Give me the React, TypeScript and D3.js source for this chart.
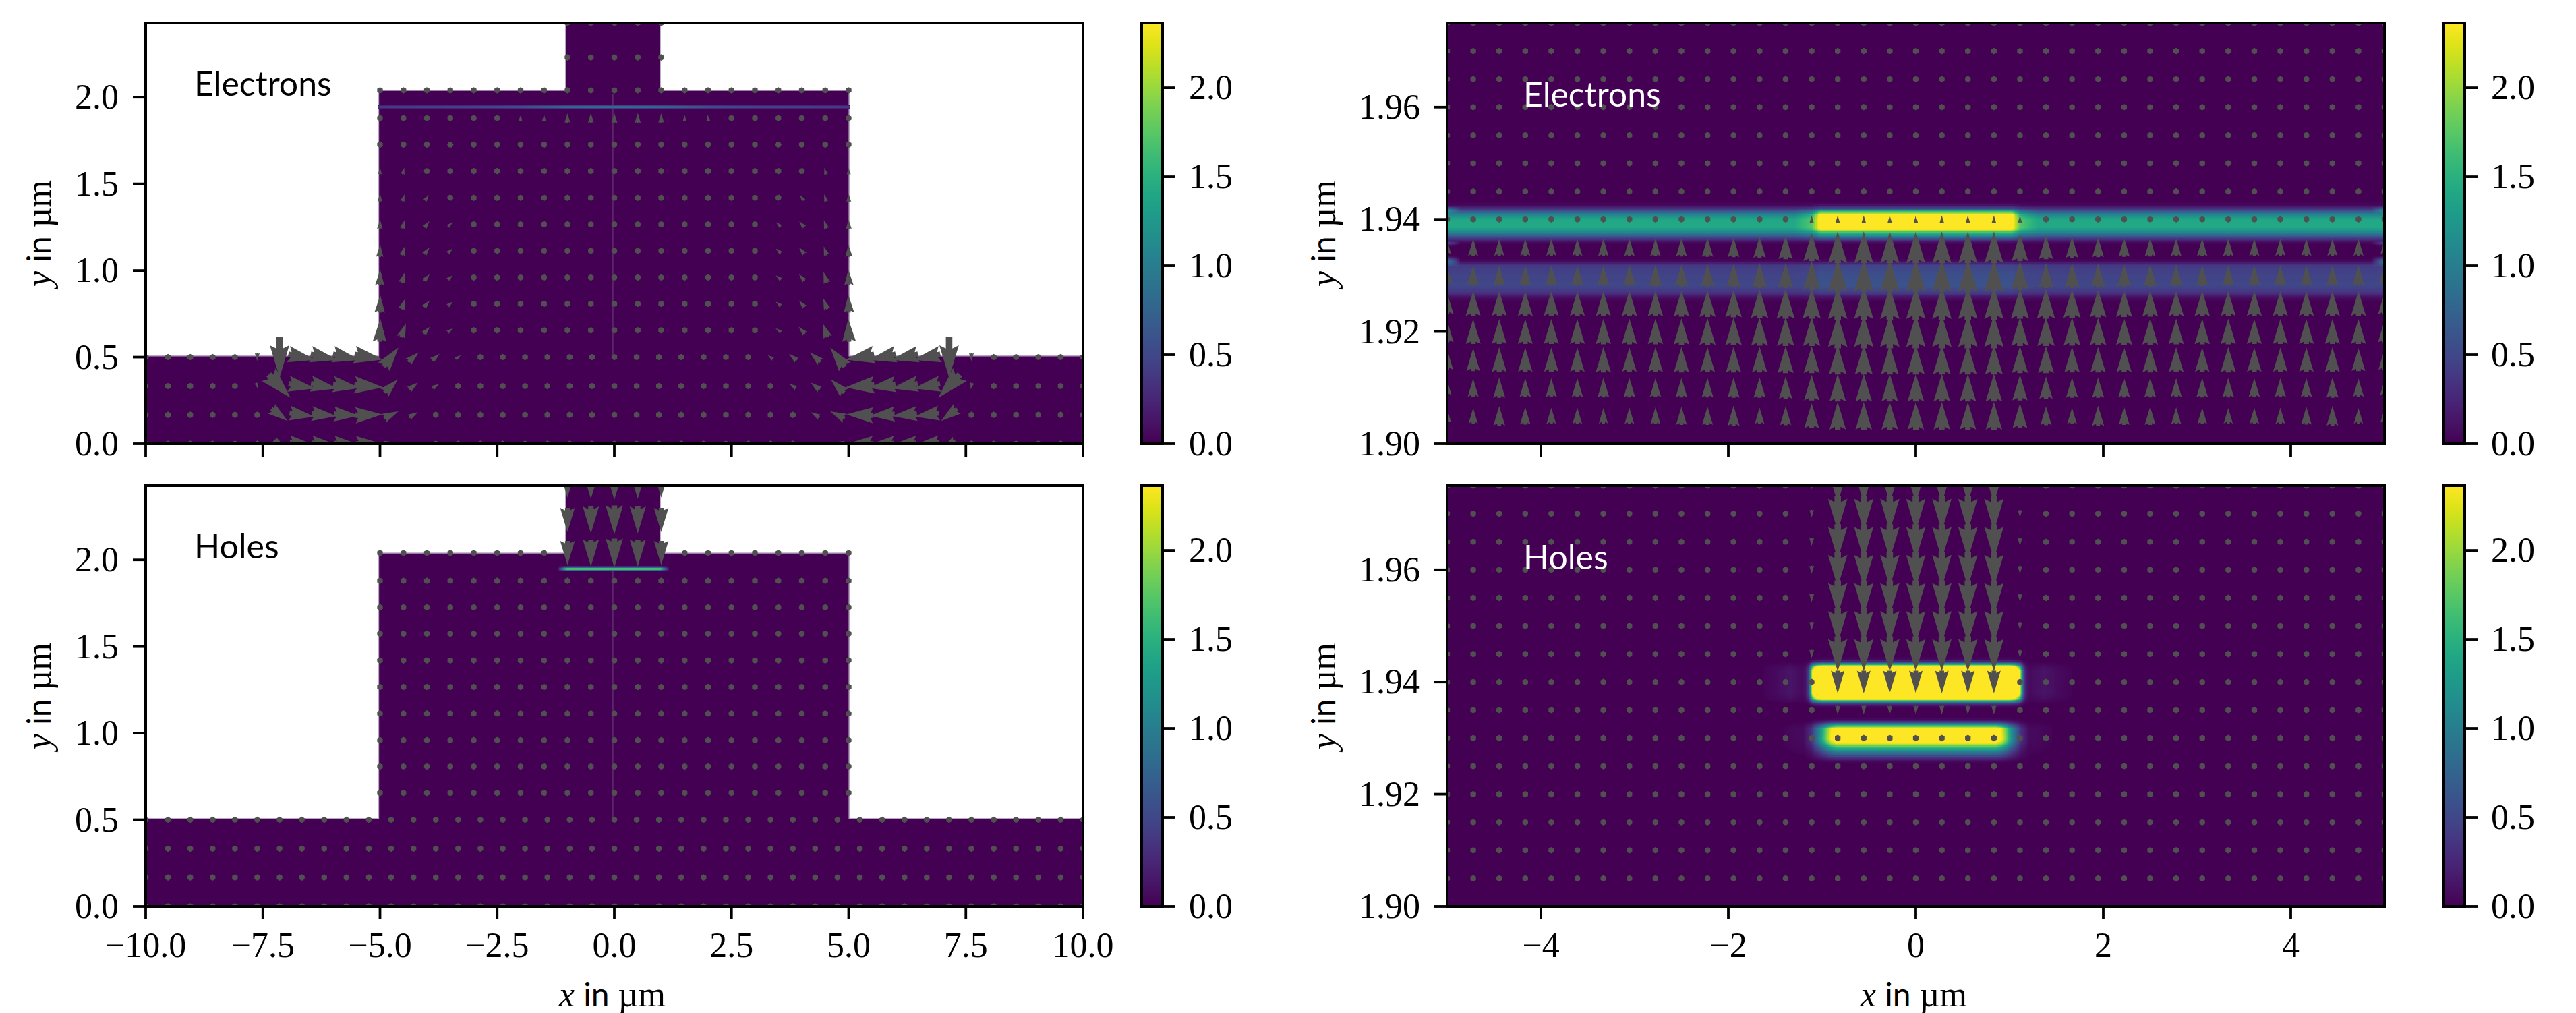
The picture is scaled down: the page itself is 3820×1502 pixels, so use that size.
import React from "react";
import * as d3 from "d3";

// ---------- layout ----------
const W = 3820, H = 1502;
const VMAX = 2.364;
const ROW_BOXES = [{ top: 34, bottom: 658 }, { top: 720, bottom: 1344 }];
const LEFT_BOX = { left: 216, right: 1606, cbL: 1693, cbR: 1724 };
const RIGHT_BOX = { left: 2146, right: 3536, cbL: 3624, cbR: 3655 };
const SERIF = "'Liberation Serif', serif";
const SANS = "Lato, 'Noto Sans', sans-serif";
const ARROW = "#505050";

// ---------- axes ----------
const wideXTicks = [-10, -7.5, -5, -2.5, 0, 2.5, 5, 7.5, 10];
const wideYTicks = [0, 0.5, 1, 1.5, 2];
const zoomXTicks = [-4, -2, 0, 2, 4];
const zoomYTicks = [1.9, 1.92, 1.94, 1.96];
const barTicks = [0, 0.5, 1, 1.5, 2];
const wideXDomain = [-10, 10];
const wideYDomain = [0, 2.429];
const zoomXDomain = [-5, 5];
const zoomYDomain = [1.9, 1.975];

// ---------- device outline (µm) ----------
const deviceX = [-10, -10, -5.03, -5.03, -1.04, -1.04, 0.98, 0.98, 5.01, 5.01, 10, 10];
const deviceY = [0, 0.507, 0.507, 2.04, 2.04, 2.6, 2.6, 2.04, 2.04, 0.507, 0.507, 0];

// ---------- sampling grids ----------
const lowerRows = [0.5, 0.333, 0.167, 0];
const upperRows = [2.04, 1.88, 1.727, 1.574, 1.42, 1.267, 1.114, 0.96, 0.808, 0.655];
const towerRows = [2.43, 2.23];
const towerCols = [-1, -0.5, 0, 0.5, 1];
const upperCols = d3.range(-10, 11).map((k) => k * 0.5);
const lowerIdx = d3.range(-21, 22);
const lowerStep = 10 / 21;
const zoomIdx = d3.range(-18, 19);
const zoomStep = 5 / 18;
const zoomRows = [1.905, 1.91, 1.915, 1.92, 1.925, 1.93, 1.935, 1.94, 1.945, 1.95, 1.955, 1.96, 1.965, 1.97, 1.975];

// ---------- wide view, electrons: left half [column, magnitude, angle°], mirrored for the right ----------
const eLow500 = [[-16, 12, -90], [-15, 61, -90], [-14, 41, -12], [-13, 41, -12], [-12, 41, -12], [-11, 43, -10], [-10, 36, 53], [-9, 21, 42], [-8, 15, 40], [-7, 10, 35]];
const eLow333 = [[-16, 10, -75], [-15, 47, -47], [-14, 40, -10], [-13, 40, -10], [-12, 40, -8], [-11, 43, -5], [-10, 28, 45], [-9, 17, 38], [-8, 12, 32]];
const eLow167 = [[-15, 30, -37], [-14, 37, -8], [-13, 37, -6], [-12, 37, -4], [-11, 40, 2], [-10, 24, 25], [-9, 15, 30]];
const eLow000 = [[-15, 20, -30], [-14, 36, -5], [-13, 36, -4], [-12, 36, -3], [-11, 38, 0], [-10, 20, 10], [-9, 12, 15]];
const eLowRows = [eLow500, eLow333, eLow167, eLow000];

const eUp188 = [[-2, 10, 85], [-1.5, 10, 88], [-1, 14, 90], [-0.5, 15, 90], [0, 15, 90]];
const eUp173 = [[-3.5, 8, 55]];
const eUp157 = [[-5, 10, 88], [-4.5, 10, 75], [-4, 9, 55]];
const eUp142 = [[-5, 12, 88], [-4.5, 11, 72], [-4, 10, 55], [-3.5, 8, 45]];
const eUp127 = [[-5, 14, 88], [-4.5, 13, 72], [-4, 12, 52], [-3.5, 10, 42]];
const eUp111 = [[-5, 18, 88], [-4.5, 14, 72], [-4, 13, 52], [-3.5, 10, 42]];
const eUp096 = [[-5, 23, 88], [-4.5, 17, 72], [-4, 13, 50], [-3.5, 10, 40]];
const eUp081 = [[-5, 26, 88], [-4.5, 17, 70], [-4, 13, 50], [-3.5, 10, 40]];
const eUp066 = [[-5, 34, 88], [-4.5, 22, 70], [-4, 14, 48], [-3.5, 10, 35]];
const eUpRows = [[], eUp188, eUp173, eUp157, eUp142, eUp127, eUp111, eUp096, eUp081, eUp066];

// ---------- wide view, holes: magnitudes in the tower, by column ----------
const hTower = [36, 40, 43, 40, 36];

// ---------- zoom view, electrons: columns -18..-5 (outer), column -4, columns -3..0, by row ----------
const eZoomOuter = [
  [20, 23, 29, 26, 24, 24, 23, 24, 25, 27, 27, 30, 24, 28],
  [22, 27, 30, 28, 28, 28, 29, 29, 28, 29, 29, 30, 30, 33],
  [30, 34, 37, 36, 36, 36, 38, 36, 37, 38, 37, 38, 38, 40],
  [32, 37, 37, 37, 37, 37, 38, 38, 38, 39, 40, 41, 42, 43],
  [32, 37, 37, 37, 37, 37, 37, 38, 38, 39, 40, 41, 43, 45],
  [26, 30, 30, 30, 30, 30, 30, 31, 32, 33, 34, 35, 37, 37],
  [20, 25, 25, 25, 25, 25, 26, 26, 26, 27, 28, 29, 31, 35],
];
const eZoomEdge = [37, 38, 40, 43, 45, 43, 41, 11];
const eZoomInner = [41, 41, 44, 50, 50, 48, 47, 11.5];

// ---------- zoom view, holes ----------
const hZoomInnerRows = [1.935, 1.94, 1.945, 1.95, 1.955, 1.96, 1.965, 1.97, 1.975];
const hZoomInner = [13, 33.5, 52, 52, 52, 52, 52, 52, 52];
const hZoomEdge = [0, 0, 12, 12, 12, 12, 12, 11, 11];

// ---------- density profiles ----------
const eBandA_y = [1.9356, 1.9362, 1.937, 1.93782, 1.9386, 1.94, 1.9408, 1.9414, 1.942, 1.9426, 1.9432];
const eBandA_v = [0, 0.15, 0.6, 1.1, 1.42, 1.42, 1.1, 0.7, 0.3, 0.05, 0];
const eCore_y = [1.9356, 1.9362, 1.937, 1.93782, 1.9384, 1.9408, 1.9414, 1.942, 1.94263, 1.9432];
const eCore_v = [0, 0.2, 1.0, 1.7, 2.5, 2.5, 1.7, 0.5, 0.1, 0];
const eCore_x = [-1.3, -1.11, -1.02, 1.02, 1.11, 1.3];
const eCore_w = [0, 0.3, 1, 1, 0.3, 0];
const eBandB_y = [1.9254, 1.9262, 1.927, 1.9282, 1.9302, 1.9318, 1.9326, 1.9332];
const eBandB_v = [0, 0.1, 0.35, 0.5, 0.47, 0.4, 0.05, 0];
const eEdge_y = [1.9316, 1.9322, 1.9326, 1.933, 1.9336, 1.9352, 1.9358, 1.9362, 1.941, 1.9417, 1.9424];
const eEdge_v = [0, 0.55, 0.9, 0.5, 0, 0, 0.45, 0, 0, 0.7, 0];
const eEdge_x = [-5, -4.93, -4.86, 4.86, 4.93, 5];
const eEdge_w = [1, 0.55, 0, 0, 0.55, 1];

const hBandA_y = [1.9352, 1.9358, 1.9362, 1.9366, 1.937, 1.938, 1.942, 1.9429, 1.9433, 1.9436, 1.944, 1.9446];
const hBandA_f = [0, 0.015, 0.1, 0.28, 0.6, 1, 1, 0.6, 0.28, 0.1, 0.015, 0];
const hBandA_x = [-1.7, -1.5, -1.35, -1.25, -1.21, -1.18, -1.15, -1.13, -1.11, -1.05, -1, 1, 1.05, 1.11, 1.13, 1.15, 1.18, 1.21, 1.25, 1.35, 1.5, 1.7];
const hBandA_w = [0, 0.015, 0.03, 0.018, 0.015, 0.03, 0.1, 0.3, 0.55, 0.9, 1, 1, 0.9, 0.55, 0.3, 0.1, 0.03, 0.015, 0.018, 0.03, 0.015, 0];
const hBandB_y = [1.9255, 1.9261, 1.9269, 1.9277, 1.9285, 1.9293, 1.93, 1.9317, 1.9325, 1.9331, 1.9336];
const hBandB_v = [0, 0.1, 0.55, 1.05, 1.65, 2.45, 2.7, 2.6, 1.1, 0.2, 0];
const hBandB_x = [-1.5, -1.3, -1.2, -1.12, -1.04, -0.97, -0.91, -0.85, 0.85, 0.91, 0.97, 1.04, 1.12, 1.2, 1.3, 1.5];
const hBandB_w = [0, 0.02, 0.025, 0.12, 0.38, 0.65, 0.88, 1, 1, 0.88, 0.65, 0.38, 0.12, 0.025, 0.02, 0];
const hBandAmp = 4.2;

// wide-view thin line: cross profile and along-x strength
const lineOffsets = [-0.012, -0.008, -0.004, 0, 0.004, 0.008, 0.012];
const lineWeights = [0.12, 0.4, 0.8, 1, 0.8, 0.4, 0.12];
const eLine_x = [-5.03, -3, -2, -1, 0, 1, 2, 3, 5.01];
const eLine_v = [0.5, 0.58, 0.68, 0.95, 1.0, 0.95, 0.68, 0.58, 0.5];
const hLine_x = [-1.22, -1.17, -1.1, -1.03, 0.97, 1.04, 1.11, 1.16];
const hLine_v = [0, 0.5, 1.3, 2.05, 2.05, 1.3, 0.5, 0];

// ---------- helpers ----------
const colour = d3.scaleSequential(d3.interpolateViridis).domain([0, VMAX]).clamp(true);
const lut = (xs: number[], ys: number[]) => d3.scaleLinear().domain(xs).range(ys).clamp(true);

const eA = lut(eBandA_y, eBandA_v), eC = lut(eCore_y, eCore_v), eW = lut(eCore_x, eCore_w), eB = lut(eBandB_y, eBandB_v);
const eE = lut(eEdge_y, eEdge_v), eEw = lut(eEdge_x, eEdge_w);
const hAf = lut(hBandA_y, hBandA_f), hAw = lut(hBandA_x, hBandA_w), hB = lut(hBandB_y, hBandB_v), hBw = lut(hBandB_x, hBandB_w);

const electronDensity = (x: number, y: number) => {
  const w = eW(x);
  return eA(y) * (1 - w) + eC(y) * w + eB(y) * (1 + 0.2 * w) + eE(y) * eEw(x);
};
const holeDensity = (x: number, y: number) => hBandAmp * hAf(y) * hAw(x) + hB(y) * hBw(x);

const cellColsE = [...d3.range(-5, -4.8, 0.01), ...d3.range(-4.8, -1.35, 0.1), ...d3.range(-1.35, -0.95, 0.01), ...d3.range(-0.95, 0.95, 0.1), ...d3.range(0.95, 1.35, 0.01), ...d3.range(1.35, 4.8, 0.1), ...d3.range(4.8, 5.001, 0.01)];
const cellColsH = [...d3.range(-1.8, -1.3, 0.03), ...d3.range(-1.3, -0.8, 0.007), ...d3.range(-0.8, 0.8, 0.1), ...d3.range(0.8, 1.3, 0.007), ...d3.range(1.3, 1.8, 0.03)];
const cellRows = d3.range(1.925, 1.9455, 0.00015);

// matplotlib-style quiver polygon, pivot = middle; length and width in px
const SHAFT = 9.6;
function arrowPath(px: number, py: number, len: number, angDeg: number) {
  const a = (-angDeg * Math.PI) / 180;
  const tr = (u: number, v: number) => [px + SHAFT * (u * Math.cos(a) - v * Math.sin(a)), py + SHAFT * (u * Math.sin(a) + v * Math.cos(a))];
  const L = len / SHAFT;
  let pts: number[][];
  if (L < 1) {
    pts = d3.range(6).map((k) => tr(0.5 * Math.cos((k * Math.PI) / 3), 0.5 * Math.sin((k * Math.PI) / 3)));
  } else {
    const HL = 5, HA = 4.5, HW = 3;
    let X: number[], Y: number[];
    if (L < HL) {
      const s = L / HL;
      X = [0, HL - HA, 0, HL, 0, HL - HA, 0].map((v) => s * v);
      Y = [0.5, 0.5, HW / 2, 0, -HW / 2, -0.5, -0.5].map((v) => s * v);
    } else {
      X = [0, L - HA, L - HL, L, L - HL, L - HA, 0];
      Y = [0.5, 0.5, HW / 2, 0, -HW / 2, -0.5, -0.5];
    }
    const mid = X[3] / 2;
    pts = X.map((x, i) => tr(x - mid, Y[i]));
  }
  return "M" + pts.map((p) => p[0].toFixed(2) + "," + p[1].toFixed(2)).join("L") + "Z";
}

type Vec = { x: number; y: number; m: number; a: number };

function mirrored(row: number[][], toX: (c: number) => number, y: number): Vec[] {
  const out: Vec[] = [];
  row.forEach(([c, m, a]) => {
    out.push({ x: toX(c), y, m, a });
    if (c !== 0) out.push({ x: -toX(c), y, m, a: 180 - a });
  });
  return out;
}

function withDots(positions: { x: number; y: number }[], arrows: Vec[]): Vec[] {
  const key = (x: number, y: number) => x.toFixed(3) + "|" + y.toFixed(3);
  const seen = new Map(arrows.map((v) => [key(v.x, v.y), v]));
  return positions.map((p) => seen.get(key(p.x, p.y)) || { x: p.x, y: p.y, m: 0, a: 90 });
}

const widePositions = [
  ...lowerRows.flatMap((y) => lowerIdx.map((i) => ({ x: i * lowerStep, y }))),
  ...upperRows.flatMap((y) => upperCols.map((x) => ({ x, y }))),
  ...towerRows.flatMap((y) => towerCols.map((x) => ({ x, y }))),
];
const zoomPositions = zoomRows.flatMap((y) => zoomIdx.map((i) => ({ x: i * zoomStep, y })));

const wideElectrons = withDots(widePositions, [
  ...lowerRows.flatMap((y, r) => mirrored(eLowRows[r], (i) => i * lowerStep, y)),
  ...upperRows.flatMap((y, r) => mirrored(eUpRows[r], (x) => x, y)),
]);
const wideHoles = withDots(widePositions, [...towerRows, 2.04].flatMap((y) => towerCols.map((x, i) => ({ x, y, m: hTower[i], a: -90 }))));

const zoomElectronArrows: Vec[] = zoomRows.slice(0, 8).flatMap((y, r) =>
  zoomIdx.map((i) => {
    const k = Math.abs(i);
    const m = k <= 3 ? eZoomInner[r] : k === 4 ? eZoomEdge[r] : r < 7 ? eZoomOuter[r][18 - k] : 0;
    return { x: i * zoomStep, y, m, a: 90 };
  })
);
const zoomElectrons = withDots(zoomPositions, zoomElectronArrows);
const zoomHoles = withDots(zoomPositions, hZoomInnerRows.flatMap((y, r) =>
  d3.range(-4, 5).map((i) => ({ x: i * zoomStep, y, m: Math.abs(i) <= 3 ? hZoomInner[r] : hZoomEdge[r], a: -90 }))
));

// ---------- pieces ----------
function Text({ x, y, children, anchor = "middle", font = SERIF, size = 52, fill = "#000" }: any) {
  return (
    <text x={x} y={y} textAnchor={anchor} fontFamily={font} fontSize={size} fill={fill}>
      {children}
    </text>
  );
}

const tickText = (v: number, d: number) => (v < 0 ? "\u2212" : "") + Math.abs(v).toFixed(d);

function Quiver({ data, sx, sy }: any) {
  const d = data.map((v: Vec) => arrowPath(sx(v.x), sy(v.y), v.m, v.a)).join("");
  return <path d={d} fill={ARROW} stroke="none" />;
}

function Heat({ density, cols, sx, sy, idp }: any) {
  const rects: React.ReactElement[] = [];
  cellRows.forEach((y: number, r: number) => {
    let start = -1, cur: string | null = null;
    const flush = (end: number) => {
      if (cur) {
        const y0 = sy(y + 0.00015), y1 = sy(y);
        rects.push(<rect key={idp + r + "_" + start} x={sx(cols[start])} y={y0} width={sx(end) - sx(cols[start])} height={y1 - y0 + 0.6} fill={cur} />);
      }
    };
    cols.forEach((x: number, c: number) => {
      const v = density(x + 0.001, y + 0.00007);
      const col = v < 0.015 ? null : (colour(v) as string);
      if (col !== cur) {
        flush(x);
        cur = col;
        start = c;
      }
    });
    flush(cols[cols.length - 1] + 0.05);
  });
  return <g shapeRendering="crispEdges">{rects}</g>;
}

function ThinLine({ xs, vs, yc, sx, sy }: any) {
  const strength = lut(xs, vs);
  const cols = d3.range(xs[0], xs[xs.length - 1], 0.02);
  return (
    <g shapeRendering="crispEdges">
      {lineOffsets.map((off, r) => {
        const yp = sy(yc + off);
        return cols.map((x: number) => (
          <rect key={r + "_" + x} x={sx(x)} y={yp - 0.5} width={sx(x + 0.02) - sx(x) + 0.5} height={1.1} fill={colour(strength(x) * lineWeights[r]) as string} />
        ));
      })}
    </g>
  );
}

function Axes({ box, rect, sx, sy, xt, yt, xd, yd, showX }: any) {
  return (
    <g>
      {xt.map((t: number) => (
        <g key={t}>
          <line x1={sx(t)} x2={sx(t)} y1={rect.bottom} y2={rect.bottom + 19} stroke="#000" strokeWidth={3.8} />
          {showX && <Text x={sx(t)} y={rect.bottom + 75}>{tickText(t, xd)}</Text>}
        </g>
      ))}
      {yt.map((t: number) => (
        <g key={t}>
          <line x1={box.left - 19} x2={box.left} y1={sy(t)} y2={sy(t)} stroke="#000" strokeWidth={3.8} />
          <Text x={box.left - 40} y={sy(t) + 17} anchor="end">{tickText(t, yd)}</Text>
        </g>
      ))}
      <rect x={box.left} y={rect.top} width={box.right - box.left} height={rect.bottom - rect.top} fill="none" stroke="#000" strokeWidth={4} />
    </g>
  );
}

function Colorbar({ box, rect }: any) {
  const sy = d3.scaleLinear().domain([0, VMAX]).range([rect.bottom, rect.top]);
  return (
    <g>
      <rect x={box.cbL} y={rect.top} width={box.cbR - box.cbL} height={rect.bottom - rect.top} fill="url(#viridisBar)" stroke="#000" strokeWidth={4} />
      {barTicks.map((t) => (
        <g key={t}>
          <line x1={box.cbR} x2={box.cbR + 19} y1={sy(t)} y2={sy(t)} stroke="#000" strokeWidth={3.8} />
          <Text x={box.cbR + 39} y={sy(t) + 17} anchor="start">{tickText(t, 1)}</Text>
        </g>
      ))}
    </g>
  );
}

function YLabel({ x, cy }: any) {
  return (
    <text transform={`translate(${x} ${cy}) rotate(-90)`} textAnchor="middle" fontSize={52} fontFamily={SERIF}>
      <tspan fontStyle="italic">y</tspan>
      <tspan fontFamily={SANS} dx={13} fontSize={48}>in</tspan>
      <tspan dx={13}>µm</tspan>
    </text>
  );
}
function XLabel({ cx }: any) {
  return (
    <text x={cx} y={1492} textAnchor="middle" fontSize={52} fontFamily={SERIF}>
      <tspan fontStyle="italic">x</tspan>
      <tspan fontFamily={SANS} dx={13} fontSize={48}>in</tspan>
      <tspan dx={13}>µm</tspan>
    </text>
  );
}

function WidePanel({ row, id, label, quiver, thin }: any) {
  const rect = ROW_BOXES[row], b = LEFT_BOX;
  const sx = d3.scaleLinear().domain(wideXDomain).range([b.left, b.right]);
  const sy = d3.scaleLinear().domain(wideYDomain).range([rect.bottom, rect.top]);
  const outline = d3.line<number>().x((v) => sx(v)).y((_, i) => sy(deviceY[i]))(deviceX) + "Z";
  return (
    <g>
      <clipPath id={id}>
        <rect x={b.left} y={rect.top} width={b.right - b.left} height={rect.bottom - rect.top} />
      </clipPath>
      <g clipPath={`url(#${id})`}>
        <path d={outline} fill={colour(0) as string} stroke="#b9a6c2" strokeWidth={1.5} />
        <line x1={sx(-0.03)} x2={sx(-0.03)} y1={sy(0.5)} y2={sy(thin.top)} stroke="#fff" strokeOpacity={0.17} strokeWidth={1.5} />
        <ThinLine xs={thin.xs} vs={thin.vs} yc={thin.yc} sx={sx} sy={sy} />
        <Quiver data={quiver} sx={sx} sy={sy} />
      </g>
      <Axes box={b} rect={rect} sx={sx} sy={sy} xt={wideXTicks} yt={wideYTicks} xd={1} yd={1} showX={row === 1} />
      <Text x={288} y={rect.top + 108} anchor="start" font={SANS} size={50}>{label}</Text>
      <YLabel x={75} cy={(rect.top + rect.bottom) / 2} />
      <Colorbar box={b} rect={rect} />
    </g>
  );
}

function ZoomPanel({ row, id, label, quiver, density, cols }: any) {
  const rect = ROW_BOXES[row], b = RIGHT_BOX;
  const sx = d3.scaleLinear().domain(zoomXDomain).range([b.left, b.right]);
  const sy = d3.scaleLinear().domain(zoomYDomain).range([rect.bottom, rect.top]);
  return (
    <g>
      <clipPath id={id}>
        <rect x={b.left} y={rect.top} width={b.right - b.left} height={rect.bottom - rect.top} />
      </clipPath>
      <g clipPath={`url(#${id})`}>
        <rect x={b.left} y={rect.top} width={b.right - b.left} height={rect.bottom - rect.top} fill={colour(0) as string} />
        <Heat density={density} cols={cols} sx={sx} sy={sy} idp={id} />
        <Quiver data={quiver} sx={sx} sy={sy} />
      </g>
      <Axes box={b} rect={rect} sx={sx} sy={sy} xt={zoomXTicks} yt={zoomYTicks} xd={0} yd={2} showX={row === 1} />
      <Text x={2259} y={rect.top + 124} anchor="start" font={SANS} size={50} fill="#fff">{label}</Text>
      <YLabel x={1980} cy={(rect.top + rect.bottom) / 2} />
      <Colorbar box={b} rect={rect} />
    </g>
  );
}

export default function App() {
  return (
    <svg width={W} height={H} viewBox={`0 0 ${W} ${H}`} style={{ position: "fixed", left: 0, top: 0, background: "#fff" }}>
      <defs>
        <linearGradient id="viridisBar" x1="0" y1="1" x2="0" y2="0">
          {d3.range(0, 1.001, 0.05).map((t) => (
            <stop key={t} offset={t} stopColor={d3.interpolateViridis(t)} />
          ))}
        </linearGradient>
      </defs>
      <WidePanel row={0} id="clipA" label="Electrons" quiver={wideElectrons} thin={{ xs: eLine_x, vs: eLine_v, yc: 1.944, top: 2.02 }} />
      <WidePanel row={1} id="clipB" label="Holes" quiver={wideHoles} thin={{ xs: hLine_x, vs: hLine_v, yc: 1.95, top: 1.95 }} />
      <ZoomPanel row={0} id="clipC" label="Electrons" quiver={zoomElectrons} density={electronDensity} cols={cellColsE} />
      <ZoomPanel row={1} id="clipD" label="Holes" quiver={zoomHoles} density={holeDensity} cols={cellColsH} />
      <XLabel cx={908} />
      <XLabel cx={2838} />
    </svg>
  );
}
